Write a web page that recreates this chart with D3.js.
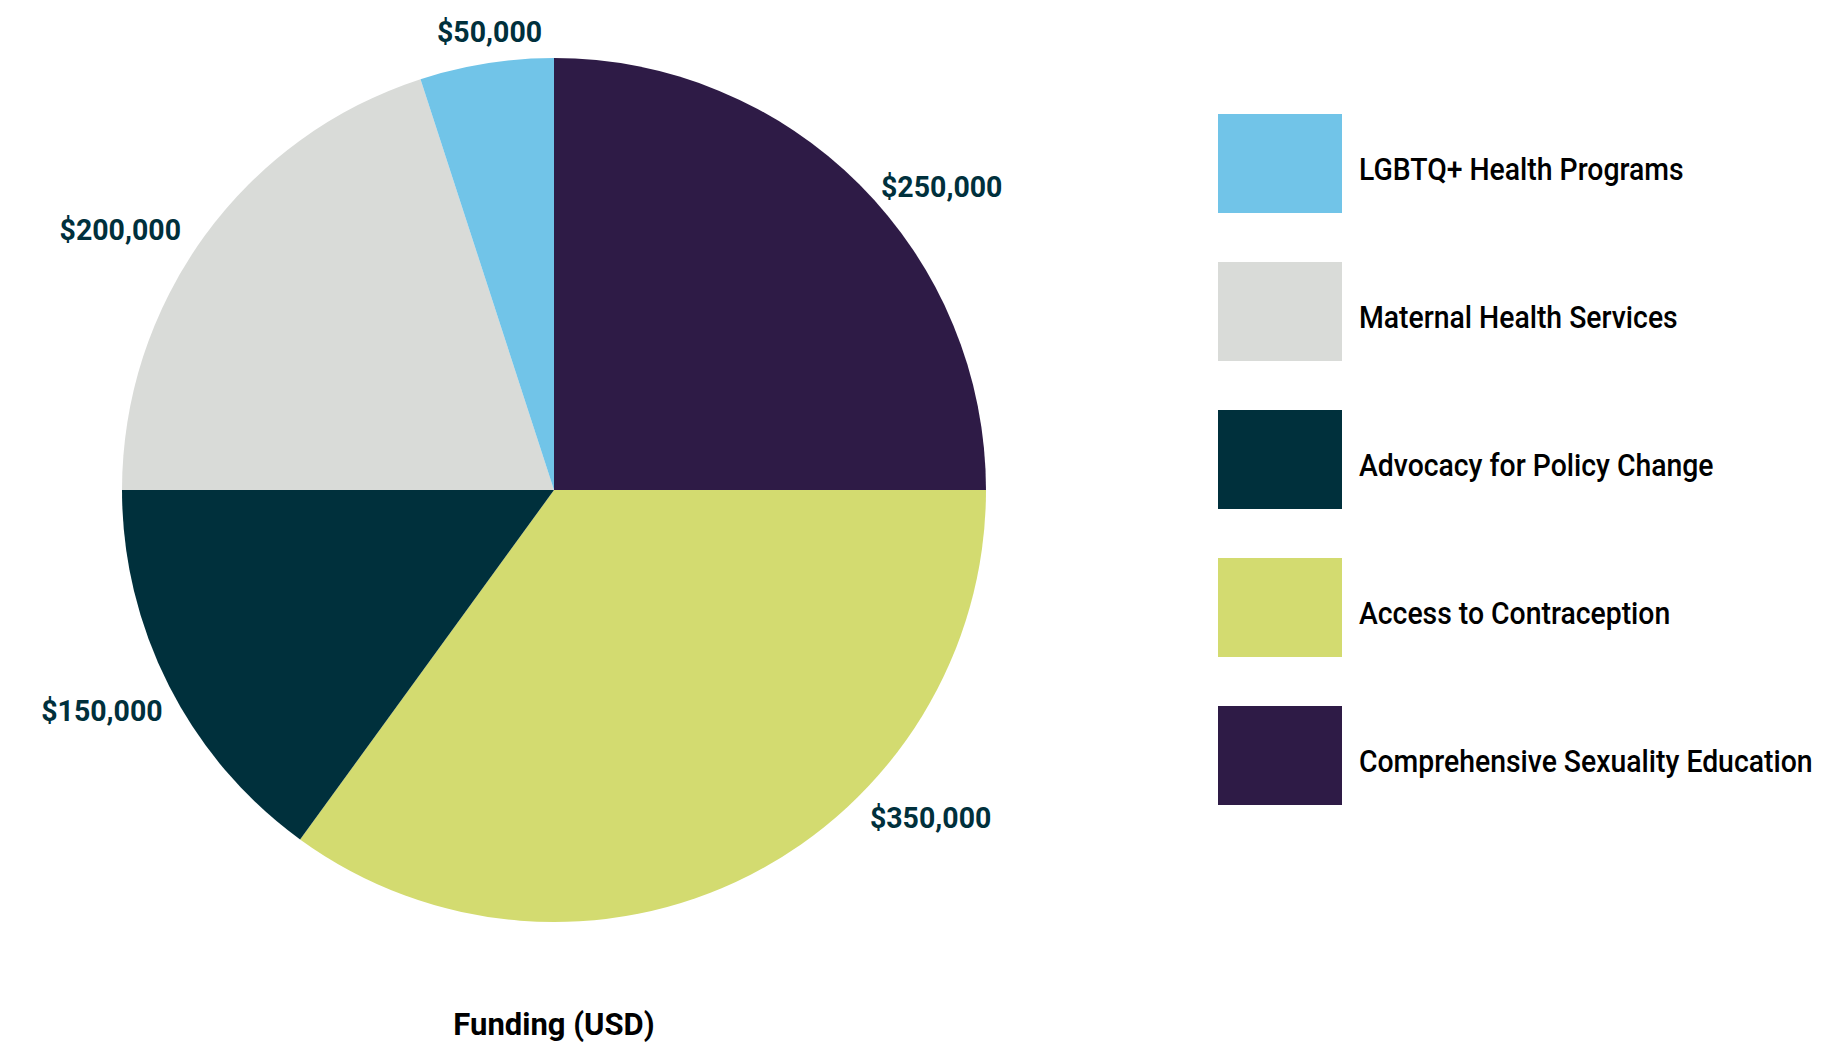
<!DOCTYPE html>
<html>
<head>
<meta charset="utf-8">
<script src="https://cdn.jsdelivr.net/npm/d3@7"></script>
<style>
  html, body { margin: 0; padding: 0; background: #ffffff; }
  svg { display: block; }
</style>
</head>
<body>
<svg id="chart" width="1825" height="1053"></svg>
<script>
// Funding by program area (USD), in drawing order clockwise from 12 o'clock
const programs = [
  "Comprehensive Sexuality Education",
  "Access to Contraception",
  "Advocacy for Policy Change",
  "Maternal Health Services",
  "LGBTQ+ Health Programs"
];
const funding = [250000, 350000, 150000, 200000, 50000];
const colors = ["#2e1b46", "#d3db70", "#00303c", "#d9dbd8", "#71c4e8"];
// Legend lists the programs from the last slice back to the first
const legendOrder = [4, 3, 2, 1, 0];
const axisTitle = "Funding (USD)";

// Small angular / radial nudges (degrees, px) so value labels clear one another
const labelNudge = [[7, -8], [-22, -1], [1, 3], [-5, 6], [1, -37]];

const svg = d3.select("#chart");
const cx = 554, cy = 490, radius = 432, labelRadius = 500;

const data = programs.map((p, i) => ({ name: p, value: funding[i], color: colors[i], i }));

const pie = d3.pie().value(d => d.value).sort(null);
const arc = d3.arc().innerRadius(0).outerRadius(radius);
const arcs = pie(data);

const g = svg.append("g").attr("transform", `translate(${cx},${cy})`);

g.selectAll("path.slice")
  .data(arcs)
  .join("path")
  .attr("class", "slice")
  .attr("d", arc)
  .attr("fill", d => d.data.color);

const fmt = d3.format("$,");

g.selectAll("text.value")
  .data(arcs)
  .join("text")
  .attr("class", "value")
  .attr("transform", d => {
    const [da, dr] = labelNudge[d.data.i];
    const a = (d.startAngle + d.endAngle) / 2 + da * Math.PI / 180;
    const r = labelRadius + dr;
    return `translate(${r * Math.sin(a)},${-r * Math.cos(a)}) scale(0.95,1)`;
  })
  .attr("text-anchor", "middle")
  .attr("dominant-baseline", "central")
  .attr("font-family", "Roboto, 'Noto Sans', sans-serif")
  .attr("font-weight", 700)
  .attr("font-size", 30)
  .attr("fill", "#00303c")
  .text(d => fmt(d.data.value));

// Legend
const legX = 1218, legY = 114, sw = 124, sh = 99, step = 148;
const legend = svg.append("g");
const items = legend.selectAll("g.item")
  .data(legendOrder.map(i => data[i]))
  .join("g")
  .attr("class", "item")
  .attr("transform", (d, k) => `translate(${legX},${legY + k * step})`);

items.append("rect")
  .attr("width", sw)
  .attr("height", sh)
  .attr("fill", d => d.color);

items.append("text")
  .attr("transform", `translate(${sw + 17},66) scale(0.915,1)`)
  .attr("font-family", "Roboto, 'Noto Sans', sans-serif")
  .attr("font-weight", 500)
  .attr("font-size", 31)
  .attr("fill", "#000")
  .text(d => d.name);

// Axis title under the pie
svg.append("text")
  .attr("x", cx)
  .attr("y", 1035)
  .attr("text-anchor", "middle")
  .attr("font-family", "Roboto, 'Noto Sans', sans-serif")
  .attr("font-weight", 700)
  .attr("font-size", 31)
  .attr("fill", "#000")
  .text(axisTitle);
</script>
</body>
</html>
